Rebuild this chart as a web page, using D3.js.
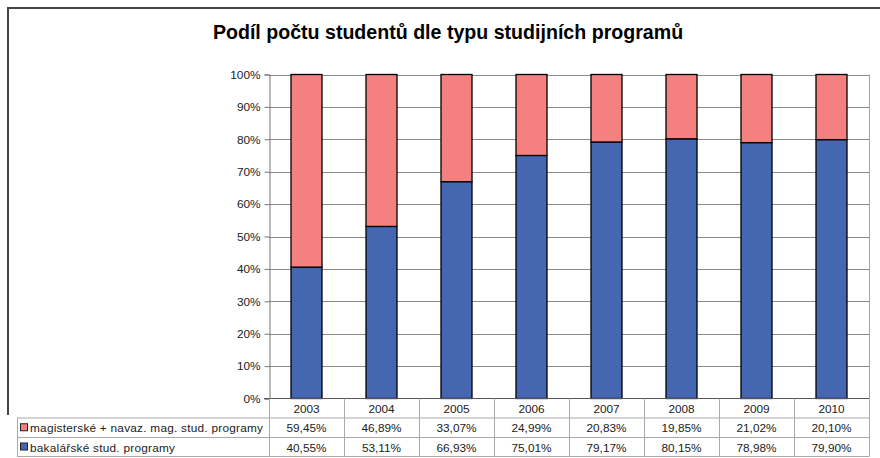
<!DOCTYPE html>
<html>
<head>
<meta charset="utf-8">
<script src="https://cdn.jsdelivr.net/npm/d3@7"></script>
<style>
  body { margin: 0; background: #fff; }
  svg { font-family: "Liberation Sans", Arial, sans-serif; }
</style>
</head>
<body>
<div id="chart"></div>
<script>
// data
const years = ["2003", "2004", "2005", "2006", "2007", "2008", "2009", "2010"];
const bakalarske = [40.55, 53.11, 66.93, 75.01, 79.17, 80.15, 78.98, 79.90];
const magisterske = [59.45, 46.89, 33.07, 24.99, 20.83, 19.85, 21.02, 20.10];
const seriesNames = ["magisterské + navaz. mag. stud. programy", "bakalářské stud. programy"];
const yTicks = [0, 10, 20, 30, 40, 50, 60, 70, 80, 90, 100];

const W = 880, H = 458;
const plot = { left: 269, right: 869, top: 74.5, bottom: 398.5 };
const colMag = "#F4817F", colBak = "#4566B1";
const fs = 11.8;

const svg = d3.select("#chart").append("svg")
  .attr("width", W)
  .attr("height", H);

// outer frame
svg.append("path")
  .attr("d", `M8,415 V8 H${W}`)
  .attr("fill", "none")
  .attr("stroke", "#444")
  .attr("stroke-width", 2);

svg.append("text")
  .attr("x", 448)
  .attr("y", 39)
  .attr("text-anchor", "middle")
  .attr("font-weight", "bold")
  .attr("font-size", 19.6)
  .text("Podíl počtu studentů dle typu studijních programů");

const x = d3.scaleBand()
  .domain(years)
  .range([plot.left, plot.right])
  .paddingInner(0)
  .paddingOuter(0);

const y = d3.scaleLinear()
  .domain([0, 100])
  .range([plot.bottom, plot.top]);

// gridlines
svg.append("g")
  .selectAll("line")
  .data(yTicks.filter(d => d > 0))
  .enter()
  .append("line")
  .attr("x1", plot.left)
  .attr("x2", plot.right)
  .attr("y1", d => Math.round(y(d)) + 0.5)
  .attr("y2", d => Math.round(y(d)) + 0.5)
  .attr("stroke", "#8a8a8a");

// right border of plot
svg.append("line")
  .attr("x1", plot.right + 0.5)
  .attr("x2", plot.right + 0.5)
  .attr("y1", plot.top)
  .attr("y2", plot.bottom)
  .attr("stroke", "#a0a0a0");

// y axis
const yAxis = svg.append("g")
  .attr("transform", `translate(${plot.left + 0.5},0)`)
  .call(d3.axisLeft(y).tickValues(yTicks).tickSize(5).tickFormat(d => d + "%"));
yAxis.select(".domain").attr("stroke", "#777");
yAxis.selectAll(".tick line").attr("stroke", "#777");
yAxis.selectAll(".tick text")
  .attr("font-size", fs)
  .attr("font-family", "Liberation Sans, Arial, sans-serif")
  .attr("fill", "#222")
  .attr("x", -9);

// bars
const barW = 31;
const bars = svg.append("g");
years.forEach((yr, i) => {
  const bx = x(yr) + (x.bandwidth() - barW) / 2;
  bars.append("rect")
    .attr("x", bx)
    .attr("y", y(bakalarske[i]))
    .attr("width", barW)
    .attr("height", y(0) - y(bakalarske[i]))
    .attr("fill", colBak)
    .attr("stroke", "#000")
    .attr("stroke-width", 1.3);
  bars.append("rect")
    .attr("x", bx)
    .attr("y", y(bakalarske[i] + magisterske[i]))
    .attr("width", barW)
    .attr("height", y(bakalarske[i]) - y(bakalarske[i] + magisterske[i]))
    .attr("fill", colMag)
    .attr("stroke", "#000")
    .attr("stroke-width", 1.3);
});

// x axis line
svg.append("line")
  .attr("x1", plot.left - 5)
  .attr("x2", plot.right)
  .attr("y1", plot.bottom)
  .attr("y2", plot.bottom)
  .attr("stroke", "#555");

// data table
const rowTop = [plot.bottom, 418, 437.5];
const rowBot = 456.5;
const tableLeft = 17;
const grid = "#aaa";
const table = svg.append("g");

// vertical column lines
x.domain().concat([null]).forEach((yr, i) => {
  const cx = i < years.length ? x(yr) : plot.right;
  table.append("line")
    .attr("x1", Math.round(cx) + 0.5)
    .attr("x2", Math.round(cx) + 0.5)
    .attr("y1", plot.bottom)
    .attr("y2", rowBot)
    .attr("stroke", grid);
});
// horizontal lines
[rowTop[1], rowTop[2], rowBot].forEach(yy => {
  table.append("line")
    .attr("x1", tableLeft)
    .attr("x2", plot.right + 0.5)
    .attr("y1", yy)
    .attr("y2", yy)
    .attr("stroke", grid);
});
table.append("line")
  .attr("x1", tableLeft + 0.5)
  .attr("x2", tableLeft + 0.5)
  .attr("y1", rowTop[1])
  .attr("y2", rowBot)
  .attr("stroke", grid);

// year labels
table.selectAll(".yr")
  .data(years)
  .enter()
  .append("text")
  .attr("x", d => x(d) + x.bandwidth() / 2)
  .attr("y", 412.5)
  .attr("text-anchor", "middle")
  .attr("font-size", fs)
  .attr("fill", "#222")
  .text(d => d);

const fmt = v => v.toFixed(2).replace(".", ",") + "%";
[magisterske, bakalarske].forEach((vals, r) => {
  const ty = (rowTop[r + 1] + (r === 0 ? rowTop[2] : rowBot)) / 2 + 4.5;
  table.append("rect")
    .attr("x", 20.5)
    .attr("y", ty - 8.5)
    .attr("width", 7)
    .attr("height", 7)
    .attr("fill", r === 0 ? colMag : colBak)
    .attr("stroke", "#222");
  table.append("text")
    .attr("x", 30)
    .attr("y", ty)
    .attr("font-size", fs)
    .attr("letter-spacing", 0.25)
    .attr("fill", "#222")
    .text(seriesNames[r]);
  vals.forEach((v, i) => {
    table.append("text")
      .attr("x", x(years[i]) + x.bandwidth() / 2)
      .attr("y", ty)
      .attr("text-anchor", "middle")
      .attr("font-size", fs)
      .attr("fill", "#222")
      .text(fmt(v));
  });
});
</script>
</body>
</html>
